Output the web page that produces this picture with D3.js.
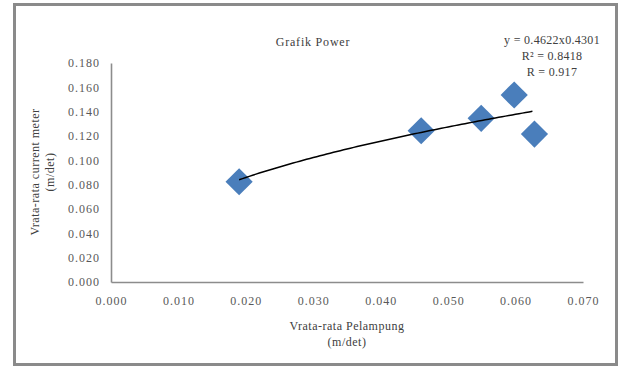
<!DOCTYPE html>
<html>
<head>
<meta charset="utf-8">
<script src="https://cdn.jsdelivr.net/npm/d3@7"></script>
<style>
  body { margin: 0; background: #fff; }
  svg text { font-family: "Liberation Serif", "Times New Roman", serif; }
</style>
</head>
<body>
<svg id="chart" width="621" height="367"></svg>
<script>
// data
const pelampung = [0.0190, 0.0460, 0.0549, 0.0598, 0.0628];
const currentMeter = [0.0824, 0.1243, 0.1345, 0.1537, 0.1216];
const xTicks = [0, 0.01, 0.02, 0.03, 0.04, 0.05, 0.06, 0.07];
const yTicks = [0, 0.02, 0.04, 0.06, 0.08, 0.1, 0.12, 0.14, 0.16, 0.18];
// power trendline as printed on the chart
const fitA = 0.4622, fitB = 0.4301;
const fitLabels = ["y = 0.4622x0.4301", "R\u00B2 = 0.8418", "R = 0.917"];

const svg = d3.select("#chart");

// outer frame
svg.append("rect")
  .attr("x", 14.5).attr("y", 4.5)
  .attr("width", 602).attr("height", 360)
  .attr("fill", "#fff")
  .attr("stroke", "#8a8a8a")
  .attr("stroke-width", 3);

const margin = { top: 63, left: 111 };
const width = 583 - 111;
const height = 282 - 63;

const g = svg.append("g")
  .attr("transform", `translate(${margin.left},${margin.top})`);

const x = d3.scaleLinear().domain([0, 0.07]).range([0, width]);
const y = d3.scaleLinear().domain([0, 0.18]).range([height, 0]);

// axes, no tick marks
const xAxis = g.append("g")
  .attr("transform", `translate(0,${height})`)
  .call(d3.axisBottom(x).tickValues(xTicks).tickFormat(d3.format(".3f")).tickSize(0).tickPadding(14));
const yAxis = g.append("g")
  .call(d3.axisLeft(y).tickValues(yTicks).tickFormat(d3.format(".3f")).tickSize(0).tickPadding(11));

[xAxis, yAxis].forEach(a => {
  a.select(".domain").attr("stroke", "#8c8c8c").attr("stroke-width", 1.6);
  a.selectAll("text")
    .attr("fill", "#595959")
    .style("font-size", "12px")
    .style("letter-spacing", "1px")
    .style("font-family", "Liberation Serif, serif");
});

// markers
const pts = pelampung.map((v, i) => ({ x: v, y: currentMeter[i] }));
g.selectAll("path.pt")
  .data(pts)
  .enter().append("path")
  .attr("class", "pt")
  .attr("d", d3.symbol(d3.symbolSquare, 370))
  .attr("transform", d => `translate(${x(d.x)},${y(d.y)}) rotate(45)`)
  .attr("fill", "#4a7ebb");

// trendline
const xs = d3.range(d3.min(pelampung), d3.max(pelampung) + 1e-9, 0.0005);
g.append("path")
  .datum(xs)
  .attr("fill", "none")
  .attr("stroke", "#000")
  .attr("stroke-width", 1.5)
  .attr("d", d3.line().x(d => x(d)).y(d => y(fitA * Math.pow(d, fitB))));

// title
svg.append("text")
  .attr("x", 313).attr("y", 46)
  .attr("text-anchor", "middle")
  .attr("fill", "#404040")
  .style("font-size", "12px")
  .style("letter-spacing", "0.8px")
  .text("Grafik Power");

// equation label
svg.selectAll("text.eq")
  .data(fitLabels)
  .enter().append("text")
  .attr("class", "eq")
  .attr("x", 552)
  .attr("y", (d, i) => 44 + i * 16)
  .attr("text-anchor", "middle")
  .attr("fill", "#404040")
  .style("font-size", "12px")
  .style("letter-spacing", "0.3px")
  .text(d => d);

// x axis title
const xt = svg.append("text")
  .attr("text-anchor", "middle")
  .attr("fill", "#404040")
  .style("font-size", "12px")
  .style("letter-spacing", "0.5px");
xt.append("tspan").attr("x", 347).attr("y", 330).text("Vrata-rata Pelampung");
xt.append("tspan").attr("x", 347).attr("y", 346).text("(m/det)");

// y axis title
const yt = svg.append("text")
  .attr("transform", "translate(39,172) rotate(-90)")
  .attr("text-anchor", "middle")
  .attr("fill", "#404040")
  .style("font-size", "12px")
  .style("letter-spacing", "0.5px");
yt.append("tspan").attr("x", 0).attr("y", 0).text("Vrata-rata  current meter");
yt.append("tspan").attr("x", 0).attr("y", 15).text("(m/det)");
</script>
</body>
</html>
